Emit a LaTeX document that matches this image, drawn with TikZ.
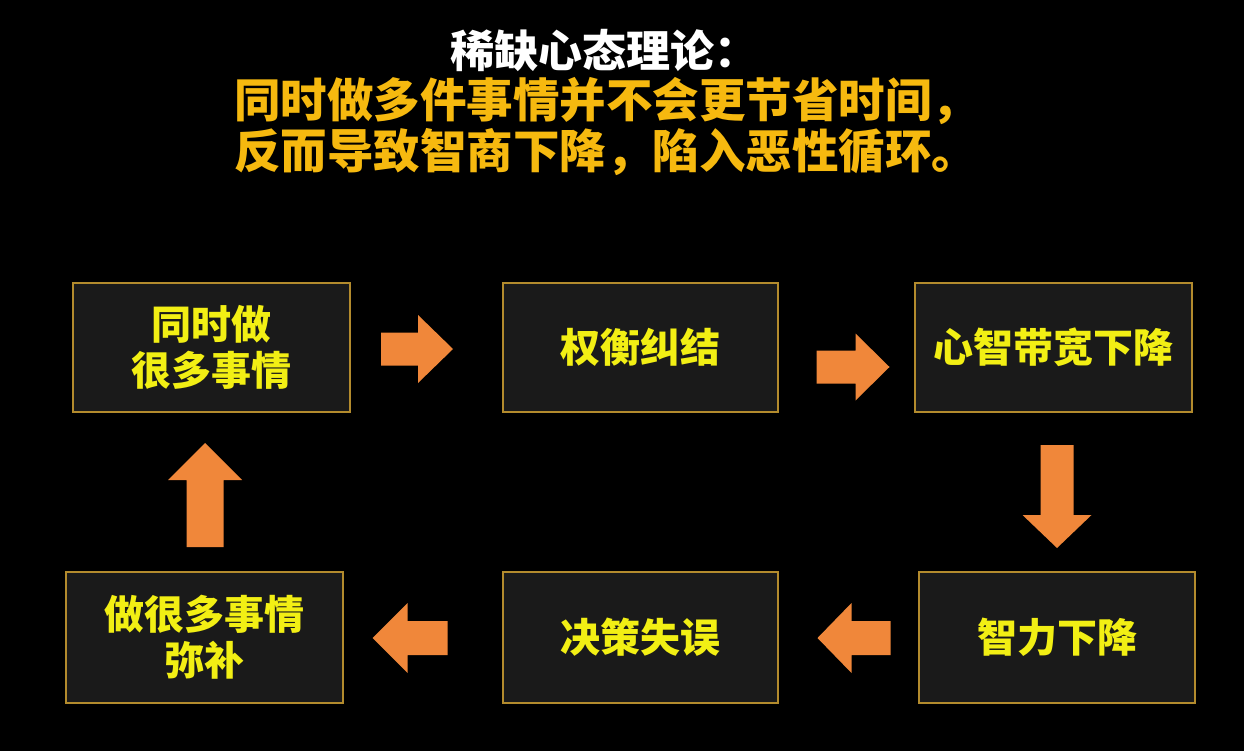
\documentclass[tikz,border=0pt]{standalone}
\usepackage{fontspec}
\newfontfamily\cjk{Noto Sans CJK SC}
\definecolor{boxgold}{HTML}{B38B2D}
\definecolor{boxfill}{HTML}{1A1A1A}
\definecolor{boxtext}{HTML}{F2EF14}
\definecolor{titleyellow}{HTML}{F6B90F}
\definecolor{arroworange}{HTML}{F0873A}
\tikzset{
  stagebox/.style={draw=boxgold, line width=2.5pt, fill=boxfill, inner sep=0pt,
    text=boxtext, align=center, font=\cjk\bfseries\fontsize{40}{46}\selectfont},
  pics/barrow/.style n args={4}{code={
    \fill[arroworange] (-#1/2,-#4) -- (#1/2-#2,-#4) -- (#1/2-#2,-#3) -- (#1/2,0)
      -- (#1/2-#2,#3) -- (#1/2-#2,#4) -- (-#1/2,#4) -- cycle;}}
}
\begin{document}
\begin{tikzpicture}[x=1pt,y=-1pt]
\fill[black] (0,0) rectangle (1244,751);
\useasboundingbox (0,0) rectangle (1244,751);
% title
\node[font=\cjk\bfseries\fontsize{44}{44}\selectfont, text=white, inner sep=0pt] (t1) at (604,50) {稀缺心态理论：};
\node[font=\cjk\bfseries\fontsize{46.5}{51}\selectfont, text=titleyellow, inner sep=0pt, align=center] (t2) at (606,127)
  {同时做多件事情并不会更节省时间，\\反而导致智商下降，陷入恶性循环。};
% boxes
\node[stagebox, minimum width=277pt, minimum height=129pt] (b1) at (211.5,347.5) {同时做\\很多事情};
\node[stagebox, minimum width=275pt, minimum height=129pt] (b2) at (640.5,347.5) {权衡纠结};
\node[stagebox, minimum width=277pt, minimum height=129pt] (b3) at (1053.5,347.5) {心智带宽下降};
\node[stagebox, minimum width=277pt, minimum height=131pt] (b4) at (204.5,637.5) {做很多事情\\弥补};
\node[stagebox, minimum width=275pt, minimum height=131pt] (b5) at (640.5,637.5) {决策失误};
\node[stagebox, minimum width=276pt, minimum height=131pt] (b6) at (1057,637.5) {智力下降};
% arrows
\pic (a1) at (417,349) {barrow={72}{35}{34}{16.5}};
\pic (a2) at (853,367) {barrow={73}{34}{33.5}{16.5}};
\pic[rotate=-90] (a3) at (1057,496.5) {barrow={103}{33}{34.5}{16.5}};
\pic[rotate=180] (a4) at (854,638) {barrow={73}{34}{35}{17}};
\pic[rotate=180] (a5) at (410,638) {barrow={75}{35}{35}{17}};
\pic[rotate=90] (a6) at (205,495) {barrow={104}{37}{37}{18.5}};
\end{tikzpicture}
\end{document}
